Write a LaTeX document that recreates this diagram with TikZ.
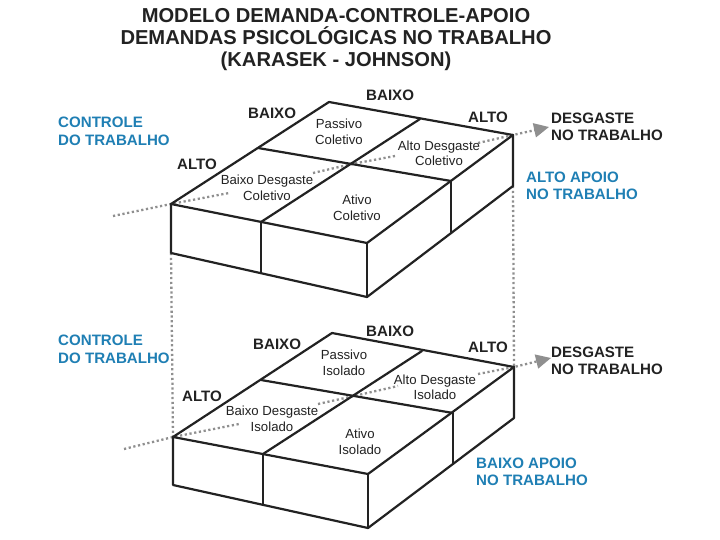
\documentclass[tikz,border=0pt]{standalone}
\usepackage{fontspec}
\setmainfont{Liberation Sans}
\usetikzlibrary{arrows.meta}
\definecolor{blu}{HTML}{1F7FB4}
\definecolor{dk}{HTML}{222222}
\definecolor{dot}{HTML}{8F8F8F}
\tikzset{
 x=1pt,y=-1pt,
 edge/.style={draw=dk,line width=2.2pt,line join=round,line cap=round},
 dots/.style={draw=dot,line width=2.3pt,dash pattern=on 2.2pt off 2.6pt},
 arr/.style={dots,-{Triangle[length=15pt,width=14pt,fill=dot,color=dot,sep=0pt]}},
 ttl/.style={font=\bfseries\fontsize{20.15}{23}\selectfont,text=dk,align=center,inner sep=0pt,anchor=base},
 lab/.style={font=\bfseries\fontsize{15.1}{17.5}\selectfont,text=dk,align=left,inner sep=0pt,anchor=west},
 blab/.style={lab,text=blu},
 cell/.style={font=\fontsize{13.2}{15.5}\selectfont,text=dk,align=center,inner sep=0pt},
}
\begin{document}
\begin{tikzpicture}
\useasboundingbox (0,0) rectangle (720,540);
\fill[white] (0,0) rectangle (720,540);
\node[ttl] (t1) at (336,23) {MODELO DEMANDA-CONTROLE-APOIO};
\node[ttl] (t2) at (336,45) {DEMANDAS PSICOLÓGICAS NO TRABALHO};
\node[ttl] (t3) at (336,67) {(KARASEK - JOHNSON)};
% upper box
\coordinate (ua) at (171,204); \coordinate (ub) at (329,102); \coordinate (uc) at (513,135); \coordinate (ud) at (367,243);
\coordinate (ue) at (171,253); \coordinate (uf) at (367,297); \coordinate (ug) at (513,186);
\coordinate (um) at (261,222); \coordinate (un) at (261,273); \coordinate (ur) at (451,181); \coordinate (us) at (451,233);
\coordinate (uo) at (352,164); \coordinate (up) at (258,148); \coordinate (uq) at (420,119);
% lower box
\coordinate (la) at (173,437); \coordinate (lb) at (332,333); \coordinate (lc) at (514,367); \coordinate (ld) at (368,474);
\coordinate (le) at (173,485); \coordinate (lf) at (368,528); \coordinate (lg) at (514,418);
\coordinate (lm) at (263,454); \coordinate (ln) at (263,505); \coordinate (lr) at (453,413); \coordinate (ls) at (453,463);
\coordinate (lo) at (354,396); \coordinate (lp) at (261,380); \coordinate (lq) at (422,351);
% dotted connections between boxes
\draw[dots] (ue) -- (la);
\draw[dots] (ug) -- (lc);
% dotted axes upper
\coordinate (us0) at (113,216); \coordinate (us1) at (229,193); \coordinate (us2) at (313,173); \coordinate (us3) at (395,156); \coordinate (us4) at (478,143); \coordinate (us5) at (549,127);
\draw[dots] (us0) -- (ua) -- (us1);
\draw[dots] (us2) -- (uo) -- (us3);
\draw[arr] (us4) -- (uc) -- (us5);
\coordinate (ls0) at (124,449); \coordinate (ls1) at (239,424); \coordinate (ls2) at (318,404); \coordinate (ls3) at (398,386); \coordinate (ls4) at (478,374); \coordinate (ls5) at (551,358);
\draw[dots] (ls0) -- (la) -- (ls1);
\draw[dots] (ls2) -- (lo) -- (ls3);
\draw[arr] (ls4) -- (lc) -- (ls5);
% box edges
\draw[edge] (ua) -- (ub) -- (uc) -- (ud) -- cycle;
\draw[edge] (ua) -- (ue) -- (uf) -- (ug) -- (uc);
\draw[edge] (ud) -- (uf);
\draw[edge] (um) -- (un); \draw[edge] (ur) -- (us);
\draw[edge] (um) -- (uq); \draw[edge] (up) -- (ur);
\draw[edge] (la) -- (lb) -- (lc) -- (ld) -- cycle;
\draw[edge] (la) -- (le) -- (lf) -- (lg) -- (lc);
\draw[edge] (ld) -- (lf);
\draw[edge] (lm) -- (ln); \draw[edge] (lr) -- (ls);
\draw[edge] (lm) -- (lq); \draw[edge] (lp) -- (lr);
% upper labels
\node[blab] (n1) at (58,131.5) {CONTROLE\\DO TRABALHO};
\node[lab] (n2) at (366,95) {BAIXO};
\node[lab] (n3) at (248,113) {BAIXO};
\node[lab] (n4) at (468,117) {ALTO};
\node[lab] (n5) at (177,164) {ALTO};
\node[lab] (n6) at (551,127) {DESGASTE\\NO TRABALHO};
\node[blab] (n7) at (526,186) {ALTO APOIO\\NO TRABALHO};
\node[cell] (c1) at (339,131.7) {Passivo\\Coletivo};
\node[cell] (c2) at (439,153.5) {Alto Desgaste\\Coletivo};
\node[cell] (c3) at (267,188) {Baixo Desgaste\\Coletivo};
\node[cell] (c4) at (357,208) {Ativo\\Coletivo};
% lower labels
\node[blab] (m1) at (58,349.5) {CONTROLE\\DO TRABALHO};
\node[lab] (m2) at (366,331) {BAIXO};
\node[lab] (m3) at (253,344) {BAIXO};
\node[lab] (m4) at (468,347) {ALTO};
\node[lab] (m5) at (182,396) {ALTO};
\node[lab] (m6) at (551,361) {DESGASTE\\NO TRABALHO};
\node[blab] (m7) at (476,472) {BAIXO APOIO\\NO TRABALHO};
\node[cell] (d1) at (344,362.7) {Passivo\\Isolado};
\node[cell] (d2) at (435,387.5) {Alto Desgaste\\Isolado};
\node[cell] (d3) at (272,419) {Baixo Desgaste\\Isolado};
\node[cell] (d4) at (360,441.7) {Ativo\\Isolado};
\end{tikzpicture}
\end{document}
